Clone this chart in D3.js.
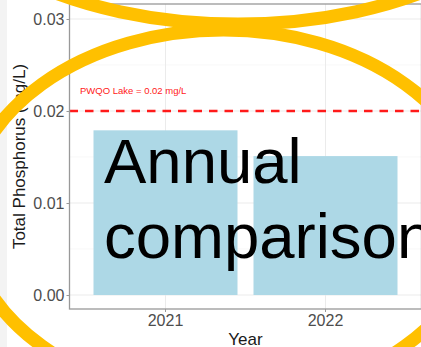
<!DOCTYPE html>
<html>
<head>
<meta charset="utf-8">
<script src="https://cdn.jsdelivr.net/npm/d3@7"></script>
<style>
  html, body { margin: 0; padding: 0; background: #fff; }
  svg { display: block; font-family: "Liberation Sans", Arial, sans-serif; }
  .grid line { stroke: #ebebeb; stroke-width: 1; }
  .grid .minor { stroke: #f4f4f4; stroke-width: 0.6; }
  .axis text { fill: #4d4d4d; font-size: 16px; }
  .axis line { stroke: #999; }
</style>
</head>
<body>
<svg id="chart" width="421" height="347"></svg>
<script>
// values
var years = ["2021", "2022"];
var phosphorus = [0.0179, 0.0151];
var yTicks = [0, 0.01, 0.02, 0.03];
var yMinorTicks = [0.005, 0.015, 0.025];
var pwqoValue = 0.02;
var pwqoLabel = "PWQO Lake = 0.02 mg/L";
var overlayText = ["Annual", "comparison"];

var data = years.map(function(d, i) { return { year: d, value: phosphorus[i] }; });

var width = 421, height = 347;
var panel = { left: 69.5, right: 421.5, top: 4, bottom: 309 };

var svg = d3.select("#chart");

// light strip on the far left
svg.append("rect")
  .attr("x", 0).attr("y", 0)
  .attr("width", 7).attr("height", height)
  .attr("fill", "#f3f3f3");

var x = d3.scaleBand()
  .domain(years)
  .range([panel.left, panel.right])
  .paddingInner(0.1)
  .paddingOuter(0.15);

var y = d3.scaleLinear()
  .domain([-0.00152, 0.03163])
  .range([panel.bottom, panel.top]);

// grid
var grid = svg.append("g").attr("class", "grid");
grid.selectAll(".minor")
  .data(yMinorTicks)
  .enter().append("line")
    .attr("class", "minor")
    .attr("x1", panel.left).attr("x2", panel.right)
    .attr("y1", function(d) { return y(d); })
    .attr("y2", function(d) { return y(d); });
grid.selectAll(".major-y")
  .data(yTicks)
  .enter().append("line")
    .attr("class", "major-y")
    .attr("x1", panel.left).attr("x2", panel.right)
    .attr("y1", function(d) { return y(d); })
    .attr("y2", function(d) { return y(d); });
grid.selectAll(".major-x")
  .data(years)
  .enter().append("line")
    .attr("class", "major-x")
    .attr("x1", function(d) { return x(d) + x.bandwidth() / 2; })
    .attr("x2", function(d) { return x(d) + x.bandwidth() / 2; })
    .attr("y1", panel.top).attr("y2", panel.bottom);

// bars
svg.selectAll(".bar")
  .data(data)
  .enter().append("rect")
    .attr("class", "bar")
    .attr("x", function(d) { return x(d.year); })
    .attr("width", x.bandwidth())
    .attr("y", function(d) { return y(d.value); })
    .attr("height", function(d) { return y(0) - y(d.value); })
    .attr("fill", "#add8e6");

// PWQO reference line
svg.append("line")
  .attr("x1", panel.left).attr("x2", panel.right)
  .attr("y1", y(pwqoValue)).attr("y2", y(pwqoValue))
  .attr("stroke", "#ff1a1a")
  .attr("stroke-width", 2.3)
  .attr("stroke-dasharray", "8.5,7");

svg.append("text")
  .attr("x", 80)
  .attr("y", y(pwqoValue) - 17)
  .attr("fill", "#ff1a1a")
  .style("font-size", "9.5px")
  .text(pwqoLabel);

// panel border
svg.append("rect")
  .attr("x", panel.left).attr("y", panel.top)
  .attr("width", panel.right - panel.left)
  .attr("height", panel.bottom - panel.top)
  .attr("fill", "none")
  .attr("stroke", "#999")
  .attr("stroke-width", 1.3);

// axes
var yAxis = svg.append("g")
  .attr("class", "axis")
  .attr("transform", "translate(" + panel.left + ",0)")
  .call(d3.axisLeft(y).tickValues(yTicks).tickSize(3).tickPadding(2).tickFormat(d3.format(".2f")));
yAxis.select(".domain").remove();

var xAxis = svg.append("g")
  .attr("class", "axis")
  .attr("transform", "translate(0," + panel.bottom + ")")
  .call(d3.axisBottom(x).tickSize(3).tickPadding(3));
xAxis.select(".domain").remove();

// axis titles
svg.append("text")
  .attr("transform", "translate(25," + ((panel.top + panel.bottom) / 2) + ") rotate(-90)")
  .attr("text-anchor", "middle")
  .attr("fill", "#1a1a1a")
  .style("font-size", "17px")
  .text("Total Phosphorus (mg/L)");

svg.append("text")
  .attr("x", (panel.left + panel.right) / 2)
  .attr("y", 345)
  .attr("text-anchor", "middle")
  .attr("fill", "#1a1a1a")
  .style("font-size", "17px")
  .text("Year");

// orange ellipse overlay
svg.append("ellipse")
  .attr("cx", 238).attr("cy", -150)
  .attr("rx", 320).attr("ry", 174)
  .attr("fill", "none")
  .attr("stroke", "#ffc000")
  .attr("stroke-width", 13);

svg.append("ellipse")
  .attr("cx", 223.5).attr("cy", 215)
  .attr("rx", 257).attr("ry", 185)
  .attr("fill", "none")
  .attr("stroke", "#ffc000")
  .attr("stroke-width", 13);

// big overlay text
svg.append("text")
  .attr("x", 104)
  .attr("y", 183)
  .attr("fill", "#000")
  .style("font-size", "63.5px")
  .selectAll("tspan")
  .data(overlayText)
  .enter().append("tspan")
    .attr("x", 104)
    .attr("dy", function(d, i) { return i === 0 ? 0 : 75; })
    .text(function(d) { return d; });
</script>
</body>
</html>
